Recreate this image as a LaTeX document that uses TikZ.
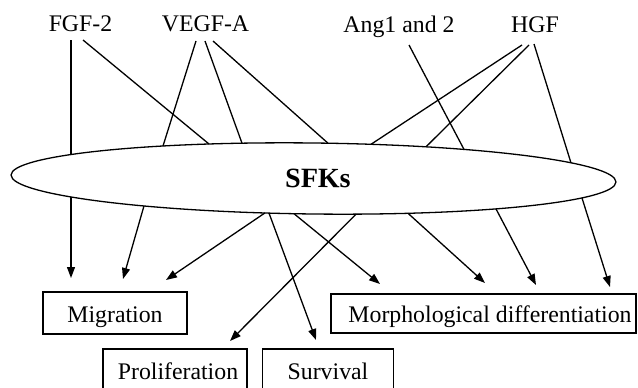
\documentclass[tikz,border=0pt]{standalone}
\usepackage{fontspec}
\setmainfont{Liberation Serif}
\usetikzlibrary{shapes.geometric,arrows.meta}
\begin{document}
\begin{tikzpicture}[x=1pt,y=-1pt,
  lbl/.style={font=\fontsize{23.8}{28}\selectfont, anchor=base, inner sep=0pt},
  box/.style={draw, line width=1.3pt, font=\fontsize{23.8}{28}\selectfont, text height=18pt, text depth=0pt, inner sep=0pt},
  conn/.style={line width=1.3pt},
  arr/.style={line width=1.3pt, -{Triangle[length=11pt,width=8pt]}}]
\useasboundingbox (0,0) rectangle (638,388);
% sources
\node[lbl] (fgf) at (80.5,31) {FGF-2};
\node[lbl] (vegf) at (205.5,31) {VEGF-A};
\node[lbl] (ang) at (399,32) {Ang1 and 2};
\node[lbl] (hgf) at (535,32) {HGF};
% central ellipse
\node[draw, ellipse, rotate=-0.66, line width=1.3pt, minimum width=605pt, minimum height=71pt, inner sep=0pt,
      font=\bfseries\fontsize{28}{32}\selectfont] (sfk) at (313.5,178.5) {\hspace*{9pt}SFKs};
% targets
\node[box, minimum width=144pt, minimum height=42pt] (mig) at (115,313) {Migration};
\node[box, minimum width=144pt, minimum height=42pt] (prol) at (175,370) {\hspace*{6pt}Proliferation};
\node[box, minimum width=131pt, minimum height=42pt] (surv) at (328,370) {Survival};
\node[box, minimum width=305pt, minimum height=39pt] (morph) at (483.5,313.5) {\hspace*{13pt}Morphological differentiation};
% start points under the labels
\coordinate (s1) at (71,40);
\coordinate (s2) at (83,40);
\coordinate (s3) at (196,41);
\coordinate (s4) at (205,41);
\coordinate (s5) at (213,41);
\coordinate (s6) at (409,45);
\coordinate (s7) at (522,45);
\coordinate (s8) at (529,45);
\coordinate (s9) at (534,44);
% points on the top of the ellipse
\coordinate (t1) at (71,154.5);
\coordinate (t2) at (209,144.0);
\coordinate (t3) at (163,146.0);
\coordinate (t4) at (242,143.2);
\coordinate (t5) at (328,143.2);
\coordinate (t6) at (464,149.4);
\coordinate (t7) at (371,144.3);
\coordinate (t8) at (426,146.8);
\coordinate (t9) at (571,162.9);
% points on the bottom of the ellipse
\coordinate (b1) at (71,196.9);
\coordinate (b2) at (144,205.9);
\coordinate (b3) at (265,212.9);
\coordinate (b4) at (269,213.1);
\coordinate (b5) at (294,213.7);
\coordinate (b6) at (356,214.2);
\coordinate (b7) at (408,213.3);
\coordinate (b8) at (496,208.9);
\coordinate (b9) at (582,198.0);
% arrow ends above the boxes
\coordinate (e1) at (71,278);
\coordinate (e2) at (123,279);
\coordinate (e3) at (166,280);
\coordinate (e4) at (316,340);
\coordinate (e5) at (380,284);
\coordinate (e6) at (230,341);
\coordinate (e7) at (485,283);
\coordinate (e8) at (536,285);
\coordinate (e9) at (610,287);
% inputs
\foreach \i in {1,...,9} {\draw[conn] (s\i) -- (t\i);}
% outputs
\foreach \i in {1,...,9} {\draw[arr] (b\i) -- (e\i);}
\end{tikzpicture}
\end{document}
